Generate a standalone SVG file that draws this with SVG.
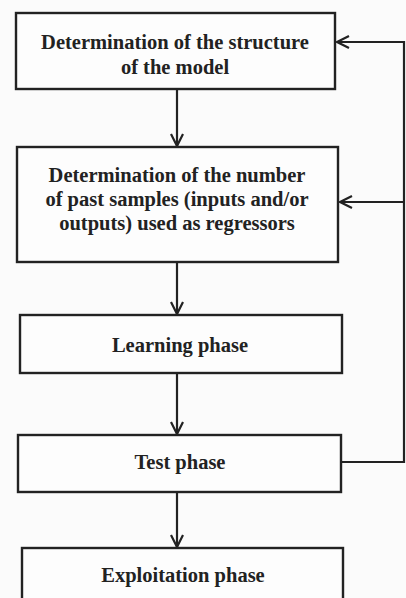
<svg xmlns="http://www.w3.org/2000/svg" width="406" height="598" viewBox="0 0 406 598">
  <defs>
    <marker id="head" markerWidth="16" markerHeight="16" refX="13" refY="8" orient="auto" markerUnits="userSpaceOnUse">
      <path d="M1,2 L13,8 L1,14" fill="none" stroke="#222" stroke-width="2.2"/>
    </marker>
    <style>
      .box { fill: #fdfdfd; stroke: #222; stroke-width: 2.4; }
      .lbl { font-family: "Liberation Serif", "DejaVu Serif", serif; font-weight: bold; font-size: 20.5px; fill: #222; text-anchor: middle; }
      .wire { fill: none; stroke: #222; stroke-width: 2.2; }
    </style>
  </defs>
  <rect width="406" height="598" fill="#fbfbfb"/>

  <g id="connectors">
    <line class="wire" x1="177" y1="90" x2="177" y2="146" marker-end="url(#head)"/>
    <line class="wire" x1="177" y1="263" x2="177" y2="314" marker-end="url(#head)"/>
    <line class="wire" x1="177" y1="374" x2="177" y2="434" marker-end="url(#head)"/>
    <line class="wire" x1="177" y1="493" x2="177" y2="547" marker-end="url(#head)"/>
    <!-- feedback loop from the test phase -->
    <polyline class="wire" points="342,462 404,462 404,42 337,42" marker-end="url(#head)"/>
    <line class="wire" x1="404" y1="202" x2="340" y2="202" marker-end="url(#head)"/>
  </g>

  <g id="structure">
    <rect class="box" x="16" y="13" width="319" height="76"/>
    <text class="lbl" x="175" y="49">Determination of the structure</text>
    <text class="lbl" x="175" y="74">of the model</text>
  </g>

  <g id="regressors">
    <rect class="box" x="17" y="147" width="321" height="115"/>
    <text class="lbl" x="177" y="182">Determination of the number</text>
    <text class="lbl" x="177" y="206">of past samples (inputs and/or</text>
    <text class="lbl" x="177" y="230">outputs) used as regressors</text>
  </g>

  <g id="learning">
    <rect class="box" x="20" y="315" width="322" height="58"/>
    <text class="lbl" x="180" y="352">Learning phase</text>
  </g>

  <g id="test">
    <rect class="box" x="18" y="435" width="323" height="57"/>
    <text class="lbl" x="180" y="469">Test phase</text>
  </g>

  <g id="exploitation">
    <rect class="box" x="22" y="548" width="321" height="60"/>
    <text class="lbl" x="183" y="582">Exploitation phase</text>
  </g>
</svg>
